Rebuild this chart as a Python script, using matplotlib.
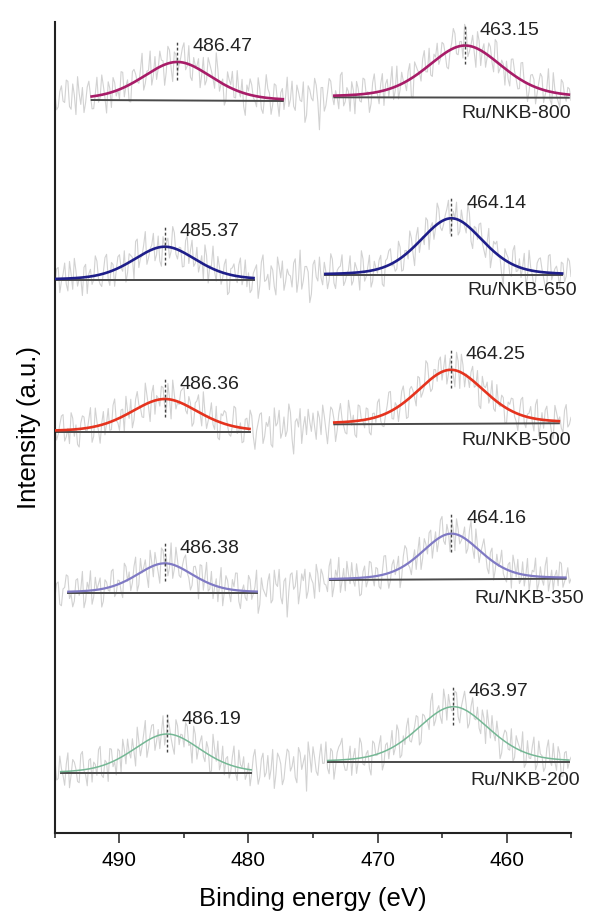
import numpy as np
import matplotlib
matplotlib.use("Agg")
import matplotlib.pyplot as plt
from matplotlib.ticker import MultipleLocator

plt.rcParams['font.family'] = ['Liberation Sans', 'DejaVu Sans']

# ---------------- data ----------------
samples = ["Ru/NKB-800", "Ru/NKB-650", "Ru/NKB-500", "Ru/NKB-350", "Ru/NKB-200"]
label_left = ["486.47", "485.37", "486.36", "486.38", "486.19"]
label_right = ["463.15", "464.14", "464.25", "464.16", "463.97"]

# fitted peak centres as drawn (eV), heights above background (a.u.), FWHM (eV)
center_left = [485.51, 486.49, 486.49, 486.49, 486.31]
center_right = [463.21, 464.27, 464.32, 464.27, 464.12]
height_left = [38.5, 33.3, 32.7, 29.4, 39.3]
height_right = [52.0, 57.0, 54.0, 45.7, 55.6]
fwhm_left = [6.4, 5.8, 6.2, 5.2, 6.2]
fwhm_right = [6.8, 5.8, 6.2, 5.4, 6.6]

# fit windows (eV)
win_left_start = [492.16, 495.0, 495.0, 493.97, 494.56]
win_left_end = [477.34, 479.61, 479.92, 479.35, 479.79]
win_right_start = [473.35, 474.04, 473.35, 473.68, 473.86]
win_right_end = [455.17, 455.69, 455.94, 455.42, 455.17]

# linear backgrounds (stacked intensity, a.u.) at window start / end
bg_left_start = [733.0, 553.0, 401.3, 240.3, 59.7]
bg_left_end = [732.0, 553.0, 401.3, 240.3, 59.7]
bg_right_start = [735.7, 557.7, 408.7, 253.0, 70.7]
bg_right_end = [735.3, 557.7, 409.7, 254.3, 70.7]

# measured spectra: residual counts about the fit envelope.
# "a" points: 495 -> 455 eV every 0.25 eV; "b" points: the half-steps in between
resid_800a = [4,-6,9,-3,12,-8,2,15,-5,-11,7,1,-9,13,-2,6,-14,3,10,-4,
              -7,11,0,-12,8,5,-3,17,-6,2,-10,9,-1,4,-15,12,-4,7,-8,3,
              14,-2,-9,6,1,-13,10,-5,8,-1,19,-7,3,-11,5,12,-6,0,9,-16,
              2,7,-4,13,-9,1,6,-12,10,-3,4,-8,15,-1,-6,9,-2,11,-13,5,
              -3,8,-24,6,-7,12,-1,3,-10,16,-5,2,9,-14,4,-6,10,1,-8,13,
              -2,5,-11,7,3,-9,14,-4,1,-7,11,-15,6,0,8,-3,12,-10,2,-5,
              9,-1,-13,4,10,-6,3,15,-8,1,-4,12,-11,6,-2,7,-9,14,-3,2,
              6,-10,11,-2,-7,13,0,-5,8,-12,4,9,-3,16,-9,2,-6,10,-1,5,
              -4]
resid_800b = [-8,5,-2,13,-6,10,-12,3,7,-4,11,-9,1,-5,14,-3,8,-11,6,0,
              12,-7,4,-13,9,-1,6,-10,2,15,-4,-8,11,3,-6,9,-14,5,-2,10,
              -5,13,-11,1,7,-3,-9,12,4,-7,8,-1,-15,10,2,-6,14,-4,-10,6,
              11,-2,-8,5,-12,16,3,-5,9,-13,7,1,-6,12,-9,4,-3,-18,8,-1,
              13,-4,6,-11,2,10,-7,-2,14,-8,5,-12,3,9,-5,11,-1,-14,7,0,
              -9,12,4,-6,15,-3,-10,8,-1,6,-13,10,2,-7,13,-4,-8,5,11,-2,
              7,-11,-1,14,-5,3,-9,12,-4,8,-14,6,1,-10,9,-3,15,-7,4,-12,
              -6,10,3,-8,12,-1,-13,7,5,-4,11,-9,2,-6,14,-2,-10,8,-5,4]
resid_650a = [-5,8,-2,11,-9,3,14,-6,0,7,-12,5,-3,10,-7,1,13,-10,4,-1,
              9,-4,-13,6,2,12,-8,-1,15,-5,3,-9,8,-14,0,6,-3,11,-7,2,
              -10,13,4,-6,9,-2,-11,7,1,16,-8,3,-4,10,-13,5,-1,8,-6,12,
              3,-9,6,-15,11,-3,2,8,-7,14,-1,-10,5,0,9,-12,18,-4,6,-20,
              7,-2,12,-8,1,-5,10,-11,4,13,-6,2,-9,7,-1,15,-7,3,-12,6,
              -3,9,-14,5,11,-1,-6,8,-10,2,14,-4,6,-8,1,12,-13,4,-2,10,
              -7,3,13,-5,0,-11,8,-2,16,-9,4,-3,11,-6,2,-14,7,9,-1,-18,
              5,-8,10,-4,6,1,-12,14,-3,-7,9,2,-10,12,-5,3,-1,8,-6,11,
              -2]
resid_650b = [7,-10,3,-4,12,-8,5,-1,-13,9,2,-6,14,-3,-9,11,-5,6,-12,8,
              -1,10,-7,4,-14,13,-2,6,-9,1,11,-5,-10,7,3,-8,15,-4,2,-11,
              9,-6,12,-3,-8,5,14,-12,1,-2,10,-9,6,-15,4,8,-5,13,-1,-7,
              -11,3,9,-6,16,-2,-9,5,-13,7,11,-4,1,-8,12,-3,-10,6,2,-14,
              10,-5,-3,8,-11,14,-7,2,5,-9,-1,12,-6,3,-13,9,-4,11,-8,1,
              6,-12,4,10,-2,-7,13,-10,3,-5,8,-14,11,-1,-6,9,2,-9,15,-4,
              -3,7,-11,5,12,-8,1,-6,10,-13,4,9,-2,-10,13,-5,6,-1,-12,8,
              3,-9,14,-3,-7,11,-5,2,-12,6,10,-4,-8,13,-1,5,-11,7,-2,9]
resid_500a = [6,-3,10,-8,1,12,-5,-11,4,8,-2,14,-7,3,-13,9,0,-6,11,-1,
              -9,5,13,-4,-12,7,2,-8,15,-3,6,-10,1,9,-5,11,-14,4,-1,8,
              12,-6,3,-10,7,-1,16,-9,2,-4,10,-13,5,8,-7,0,13,-3,-11,6,
              -2,9,-15,4,11,-6,1,-12,14,3,-8,7,-3,10,-20,5,12,-1,-7,2,
              8,-11,4,13,-5,-1,9,-14,6,2,-8,15,-3,-10,11,0,-6,7,-12,3,
              10,-4,-9,5,14,-7,1,-2,12,-13,6,3,-10,8,-5,16,-1,-8,4,9,
              -6,11,-3,2,-12,7,13,-9,0,5,-4,10,-15,3,8,-1,-7,12,-2,6,
              -11,4,9,-6,1,13,-8,3,-3,10,-12,5,7,-2,-9,11,0,-5,8,-4,
              3]
resid_500b = [-7,4,11,-5,-10,8,3,-13,9,-2,6,-11,13,-4,1,-8,10,-6,15,-3,
              5,-12,2,9,-7,12,-1,-9,6,-14,11,3,-5,8,-10,1,14,-6,-2,10,
              -4,7,-13,5,12,-9,2,-3,11,-7,-12,6,9,-1,-8,14,-5,3,-10,7,
              13,-6,-2,10,-11,4,8,-14,1,12,-4,-7,16,-9,3,-1,-13,6,11,-5,
              -2,9,-8,5,-15,11,2,-6,13,-3,-9,7,4,-12,10,-1,8,-10,3,-4,
              12,-8,-1,14,-6,4,-11,9,1,-13,7,-3,10,-7,-2,13,-9,5,-5,11,
              2,-10,8,-4,13,-12,6,1,-7,10,-2,-14,9,3,-6,12,-8,-1,7,-11,
              5,9,-3,-12,11,-5,2,8,-9,14,-4,-6,10,-1,-13,6,3,-8,12,-2]
resid_350a = [-4,7,-10,3,11,-2,-7,9,1,-12,6,14,-5,0,8,-9,4,-3,12,-6,
              2,-11,10,5,-4,13,-8,-1,7,-14,3,9,-6,11,-2,-9,15,-3,4,-7,
              8,-1,-12,6,2,10,-7,14,-4,-10,5,1,-13,9,-3,7,12,-8,0,-5,
              11,-6,3,-16,9,-2,6,-10,13,1,-7,4,-22,8,-3,10,-5,2,-11,7,
              -1,12,-8,4,-4,9,-13,6,15,-2,-9,3,11,-6,1,-12,8,-3,10,-7,
              5,-10,13,-1,-6,8,2,-14,7,11,-4,0,-9,12,-5,3,9,-11,6,-2,
              14,-7,1,10,-12,4,-3,8,-6,16,-9,2,-1,11,-8,5,-13,7,3,-4,
              -9,6,12,-3,-7,9,0,-11,4,13,-5,-2,8,-10,5,1,-6,10,-3,7,
              -1]
resid_350b = [6,-9,2,12,-5,-11,8,-3,14,-7,1,-10,9,4,-13,6,-2,11,-8,3,
              -6,13,-1,-9,7,-12,10,2,-5,12,-8,1,-14,9,5,-3,-10,13,-6,2,
              11,-4,-8,7,-15,10,3,-6,9,-1,-11,14,-3,6,-9,2,12,-13,4,-7,
              8,-2,15,-10,1,-5,11,-8,3,13,-12,6,-4,9,-1,-14,7,10,-6,2,
              -12,5,8,-3,-9,14,-6,1,-10,7,12,-4,-2,10,-13,4,-7,11,-1,6,
              -8,2,13,-11,5,-3,9,-7,14,-1,-10,6,3,-12,8,-5,10,-2,-9,12,
              -4,7,-13,3,11,-6,1,-10,8,-3,13,-9,5,2,-11,9,-5,-1,12,-7,
              4,-12,6,10,-4,-8,12,-2,3,-10,7,-6,14,-3,-9,5,11,-7,1,-4]
resid_200a = [9,-5,2,-10,13,-3,6,-8,11,-1,-12,7,4,-6,14,-9,1,10,-4,-11,
              5,12,-7,0,8,-13,3,-2,15,-6,9,-10,4,1,-8,11,-3,-14,7,2,
              -6,10,-1,13,-9,5,-4,8,-12,16,-2,-7,11,3,-10,6,-5,12,0,-8,
              4,-3,14,-11,7,-6,9,-1,-15,10,2,-9,12,-4,6,-13,8,1,-20,5,
              11,-7,3,-2,13,-10,6,-5,9,15,-8,1,-12,7,-3,10,-6,4,-14,8,
              -1,12,-9,5,2,-6,14,-11,3,8,-4,-1,10,-13,7,0,-8,16,-5,4,
              -10,6,9,-3,11,-7,1,13,-12,5,-2,8,-9,4,12,-6,-1,10,-15,3,
              7,-4,-11,9,2,14,-8,-3,6,-10,11,1,-7,13,-5,-2,9,-12,5,-6,
              2]
resid_200b = [-6,11,-3,5,-12,8,1,-9,13,-4,6,-10,2,12,-7,3,-13,9,-1,7,
              -11,4,10,-5,-2,14,-8,6,-12,3,9,-4,-10,13,-1,5,-9,11,-6,2,
              12,-3,-14,8,-1,10,-7,4,-11,6,13,-2,-9,5,-5,14,-10,2,8,-4,
              -12,9,1,-6,11,-3,-8,13,-5,7,-13,3,10,-1,-9,12,-4,6,15,-7,
              3,-10,12,-2,-6,8,-14,5,11,-3,-8,9,1,-11,14,-5,2,-9,10,-1,
              6,-13,4,-7,12,-2,9,-10,-4,13,-6,3,8,-12,5,-1,11,-8,2,-5,
              14,-9,1,-3,10,-11,7,4,-8,12,-2,-6,9,-13,3,11,-5,1,-10,8,
              -4,12,-7,5,-1,-11,9,-3,13,-6,2,-10,7,-2,11,-8,4,-12,6,-1]
residuals_a = [resid_800a, resid_650a, resid_500a, resid_350a, resid_200a]
residuals_b = [resid_800b, resid_650b, resid_500b, resid_350b, resid_200b]
counts_to_au = 1.4   # residual counts -> stacked intensity units

x_ticks_major = [490, 480, 470, 460]

# ---------------- layout / styles ----------------
sample_label_x = [463.52, 463.05, 463.52, 462.52, 462.79]
sample_label_dy = [-16.5, -14.7, -15.7, -18.3, -17.7]
fit_colors = ['#A81C68', '#1E1E8A', '#E5331E', '#7F79C4', '#74B794']
fit_widths = [1.9, 1.9, 1.9, 1.6, 1.1]
energy = np.linspace(495, 455, 321)


def pseudo_voigt(e, c, h, w, eta=0.3):
    d = (e - c) / w
    g = np.exp(-4 * np.log(2) * d ** 2)
    lor = 1.0 / (1.0 + 4 * d ** 2)
    return h * (eta * lor + (1 - eta) * g)


fig = plt.figure(figsize=(5.95, 9.17), dpi=100)
ax = fig.add_axes([0.0924, 0.0916, 0.8673, 0.8844])

for i in range(len(samples)):
    resid = np.empty(321)
    resid[0::2] = residuals_a[i]
    resid[1::2] = residuals_b[i]
    xp = [win_right_end[i], win_right_start[i], win_left_end[i], win_left_start[i]]
    fp = [bg_right_end[i], bg_right_start[i], bg_left_end[i], bg_left_start[i]]
    bg = np.interp(energy, xp, fp)
    raw = (bg + pseudo_voigt(energy, center_left[i], height_left[i], fwhm_left[i])
           + pseudo_voigt(energy, center_right[i], height_right[i], fwhm_right[i])
           + counts_to_au * resid)
    ax.plot(energy, raw, color='#d2d2d2', lw=0.8, zorder=1)

    # left fit
    el = np.linspace(win_left_start[i], win_left_end[i], 300)
    bl = np.interp(el, [win_left_end[i], win_left_start[i]], [bg_left_end[i], bg_left_start[i]])
    ax.plot([win_left_start[i], win_left_end[i]], [bg_left_start[i], bg_left_end[i]],
            color='#4a4a4a', lw=1.4, zorder=2)
    ax.plot(el, bl + pseudo_voigt(el, center_left[i], height_left[i], fwhm_left[i]),
            color=fit_colors[i], lw=fit_widths[i], zorder=3)
    # right fit
    er = np.linspace(win_right_start[i], win_right_end[i], 300)
    br = np.interp(er, [win_right_end[i], win_right_start[i]], [bg_right_end[i], bg_right_start[i]])
    ax.plot([win_right_start[i], win_right_end[i]], [bg_right_start[i], bg_right_end[i]],
            color='#4a4a4a', lw=1.4, zorder=2)
    ax.plot(er, br + pseudo_voigt(er, center_right[i], height_right[i], fwhm_right[i]),
            color=fit_colors[i], lw=fit_widths[i], zorder=3)

    for c, h, lab, e0, e1, b0, b1 in [
        (center_left[i], height_left[i], label_left[i], win_left_end[i], win_left_start[i],
         bg_left_end[i], bg_left_start[i]),
        (center_right[i], height_right[i], label_right[i], win_right_end[i], win_right_start[i],
         bg_right_end[i], bg_right_start[i])]:
        top = np.interp(c, [e0, e1], [b0, b1]) + h
        ax.plot([c, c], [top - 18, top + 22], color='#444444', lw=1.0,
                linestyle=(0, (2, 1.6)), zorder=4)
        ax.text(c - 1.15, top + 15, lab, fontsize=14, ha='left', va='center', color='#222222')

    ax.text(sample_label_x[i], bg_right_start[i] + sample_label_dy[i],
            samples[i], fontsize=14, ha='left', va='center', color='#222222', clip_on=False)

ax.set_xlim(495, 455)
ax.set_ylim(0, 811)
ax.xaxis.set_major_locator(plt.FixedLocator(x_ticks_major))
ax.xaxis.set_minor_locator(MultipleLocator(5))
ax.tick_params(axis='x', which='major', direction='out', length=7.2, width=1.1,
               labelsize=15, pad=6, color='#222222')
ax.tick_params(axis='x', which='minor', direction='out', length=3.6, width=1.1, color='#222222')
ax.set_yticks([])
for s in ['top', 'right']:
    ax.spines[s].set_visible(False)
for s in ['left', 'bottom']:
    ax.spines[s].set_linewidth(1.5)
    ax.spines[s].set_color('#222222')

ax.set_xlabel('Binding energy (eV)', fontsize=18.5, labelpad=12)
ax.set_ylabel('Intensity (a.u.)', fontsize=18.5, labelpad=10)

fig.savefig('out.png', dpi=100)
